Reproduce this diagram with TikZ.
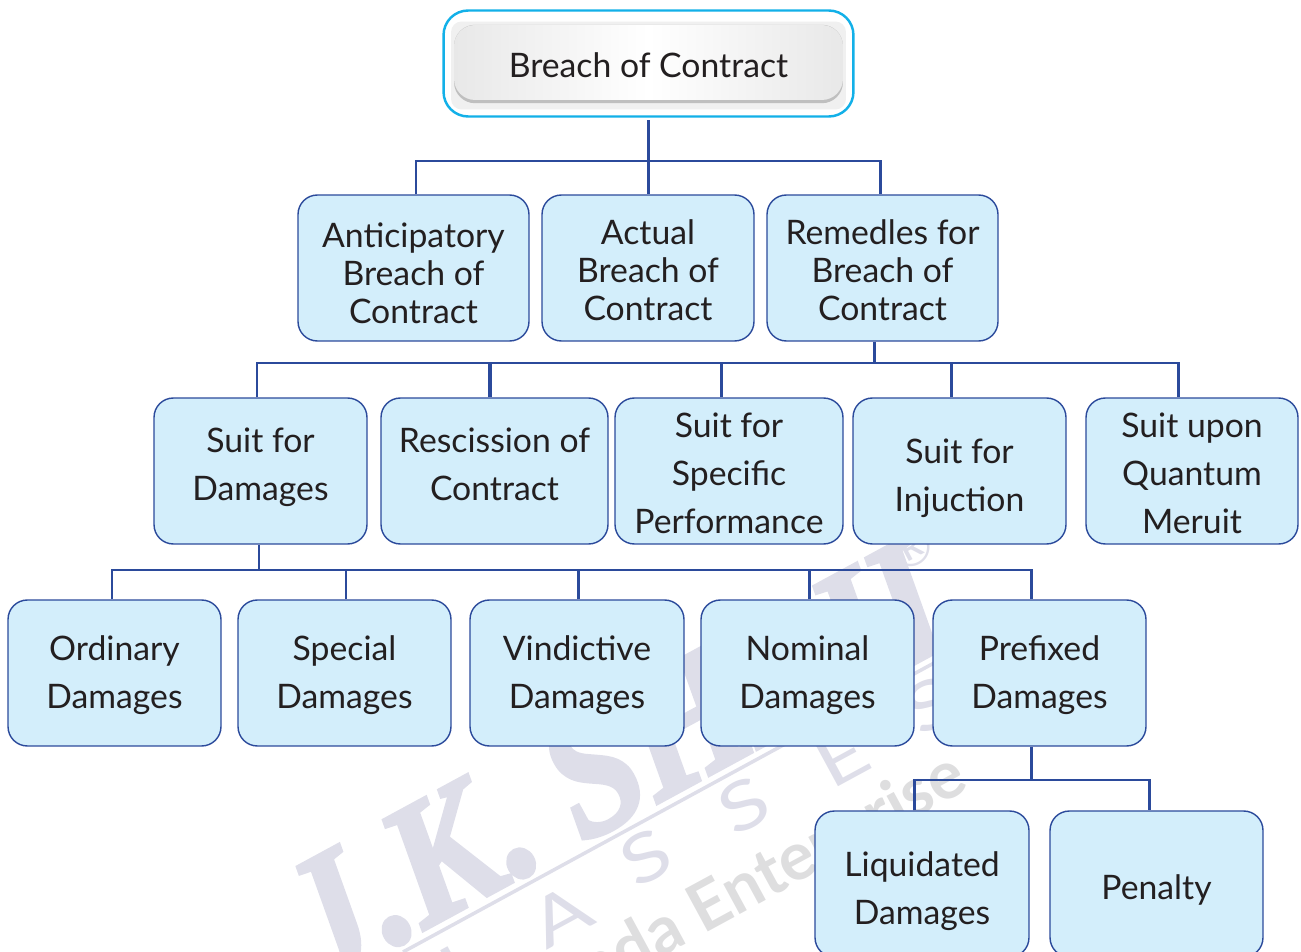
\documentclass[tikz,border=0pt]{standalone}
\usepackage{fontspec}
\setmainfont{Lato}
\newfontfamily\markfont[BoldItalicFeatures={FakeBold=2.5}]{Liberation Serif}
\usepackage{tikz}
\definecolor{boxfill}{HTML}{D3EEFB}
\definecolor{boxline}{HTML}{2B4A9B}
\definecolor{rootline}{HTML}{12B0E8}
\definecolor{txtcol}{HTML}{231F20}
\definecolor{markcol}{HTML}{DEDEE9}
\definecolor{markgrey}{HTML}{DEDEDF}
% push the text of a box down or up, in pixels
\newcommand{\dropline}[1]{\rule{0pt}{\dimexpr 14.5pt+1.134pt*#1\relax}}
\newcommand{\liftline}[1]{\rule[-\dimexpr 4.2pt+1.134pt*#1\relax]{0pt}{\dimexpr 4.2pt+1.134pt*#1\relax}}
\tikzset{
	box/.style={draw=boxline, fill=boxfill, line width=0.8pt, rounded corners=11pt, align=center, text=txtcol, inner sep=0pt},
	boxa/.style={box, minimum width=4.62cm, minimum height=2.92cm, font=\fontsize{19.2}{21.5}\selectfont},
	boxb/.style={box, minimum height=2.92cm, font=\fontsize{19.2}{27.3}\selectfont},
	link/.style={draw=boxline, line width=1.7pt},
	wmark/.style={text=markcol, inner sep=0pt},
}
\begin{document}
\begin{tikzpicture}[x=0.02cm, y=-0.02cm]
	\useasboundingbox (0,0) rectangle (1301,952);
	\clip (0,0) rectangle (1301,952);

	% watermark
	\node[wmark, rotate=28.5, font=\fontsize{100}{100}\markfont\bfseries\itshape\selectfont, anchor=base west, xscale=0.88] (markname) at (322,985) {J.K. SHAH};
	\node[wmark, rotate=28.5, font=\fontsize{30}{30}\selectfont] (markreg) at (911,547) {\textregistered};
	\coordinate (markstart) at (403,952);
	\coordinate (markend) at (934,663);
	\draw[markcol, line width=2pt] (markstart) -- (markend);
	\foreach \letter/\xpos/\ypos in {L/465/965, A/561/915, S/646/857, S/744/805, E/842/758, S/930/705}
		\node[wmark, rotate=28.5, xscale=1.3, font=\fontsize{38}{38}\selectfont] (class\xpos) at (\xpos,\ypos) {\letter};
	\node[wmark, text=markgrey, rotate=28.5, font=\fontsize{38}{38}\bfseries\selectfont, anchor=east] (markent) at (962,772) {A Veranda Enterprise};

	% root
	\node[draw=rootline, fill=white, line width=1.4pt, rounded corners=14pt, minimum width=8.2cm, minimum height=2.12cm] (rootouter) at (648.5,63.5) {};
	\node[fill=black!6, rounded corners=6pt, minimum width=7.9cm, minimum height=1.76cm, inner sep=0pt] (roothalo) at (648.5,65.5) {};
	\node[fill=gray!50, rounded corners=12pt, minimum width=7.78cm, minimum height=1.57cm, inner sep=0pt] (rootshadow) at (648.5,64) {};
	\node[left color=black!9, right color=black!9, middle color=white, rounded corners=12pt, minimum width=7.78cm, minimum height=1.5cm, inner sep=0pt, text=txtcol, font=\fontsize{19.2}{21.5}\selectfont] (root) at (648.5,62.5) {\dropline{2}Breach of Contract};

	% first row
	\node[boxa] (anticip) at (413.5,268) {\dropline{5}Anticipatory\\Breach of\\Contract};
	\node[boxa, minimum width=4.24cm] (actual) at (648,268) {\dropline{2}Actual\\Breach of\\Contract};
	\node[boxa] (remedy) at (882.5,268) {\dropline{2}Remedles for\\Breach of\\Contract};

	% second row
	\node[boxb, minimum width=4.26cm] (suit) at (260.5,471) {Suit for\\Damages\liftline{3}};
	\node[boxb, minimum width=4.54cm] (resc) at (494.5,471) {Rescission of\\Contract\liftline{3}};
	\node[boxb, minimum width=4.56cm] (spec) at (729,471) {\dropline{2}Suit for\\Specific\\Performance};
	\node[boxb, minimum width=4.26cm] (injun) at (959.5,471) {\dropline{7}Suit for\\Injuction};
	\node[boxb, minimum width=4.24cm] (quant) at (1192,471) {\dropline{2}Suit upon\\Quantum\\Meruit};

	% third row
	\node[boxb, minimum width=4.26cm] (ordin) at (114.5,673) {\dropline{2}Ordinary\\Damages};
	\node[boxb, minimum width=4.26cm] (special) at (344.5,673) {\dropline{2}Special\\Damages};
	\node[boxb, minimum width=4.28cm] (vindic) at (577,673) {\dropline{2}Vindictive\\Damages};
	\node[boxb, minimum width=4.26cm] (nomin) at (807.5,673) {\dropline{2}Nominal\\Damages};
	\node[boxb, minimum width=4.26cm] (prefix) at (1039.5,673) {\dropline{2}Prefixed\\Damages};

	% fourth row
	\node[boxb, minimum width=4.28cm] (liquid) at (922,884) {\dropline{7}Liquidated\\Damages};
	\node[boxb, minimum width=4.26cm] (penalty) at (1156.5,884) {\dropline{6}Penalty};

	% bus lines
	\coordinate (busa) at (648,161);
	\coordinate (busal) at (416,161);
	\coordinate (busar) at (880,161);
	\coordinate (busb) at (874,363);
	\coordinate (busbl) at (257,363);
	\coordinate (busbr) at (1178,363);
	\coordinate (busc) at (259,570);
	\coordinate (buscl) at (112,570);
	\coordinate (buscr) at (1031,570);
	\coordinate (busd) at (1031,780);
	\coordinate (busdl) at (914,780);
	\coordinate (busdr) at (1149,780);

	\draw[link, shorten <=1.5pt] (rootouter.south -| actual.north) -- (actual.north);
	\draw[link] (anticip.north -| busal) |- (busar) -- (remedy.north -| busar);
	\draw[link] (busb |- remedy.south) -- (busb);
	\draw[link] (suit.north -| busbl) |- (busbr) -- (quant.north -| busbr);
	\draw[link] (busc |- suit.south) -- (busc);
	\draw[link] (ordin.north -| buscl) |- (buscr) -- (prefix.north -| buscr);
	\draw[link] (busd |- prefix.south) -- (busd);
	\draw[link] (liquid.north -| busdl) |- (busdr) -- (penalty.north -| busdr);

	% drops
	\foreach \nodename/\xpos in {resc/489, spec/721, injun/951}
		\draw[link] (\nodename.north -| \xpos,0) -- (\xpos,363);
	\foreach \nodename/\xpos in {special/346, vindic/578, nomin/809}
		\draw[link] (\nodename.north -| \xpos,0) -- (\xpos,570);
	\draw[boxline, line width=0.5pt] (resc.north -| 491.5,0) -- (491.5,363);
\end{tikzpicture}
\end{document}
